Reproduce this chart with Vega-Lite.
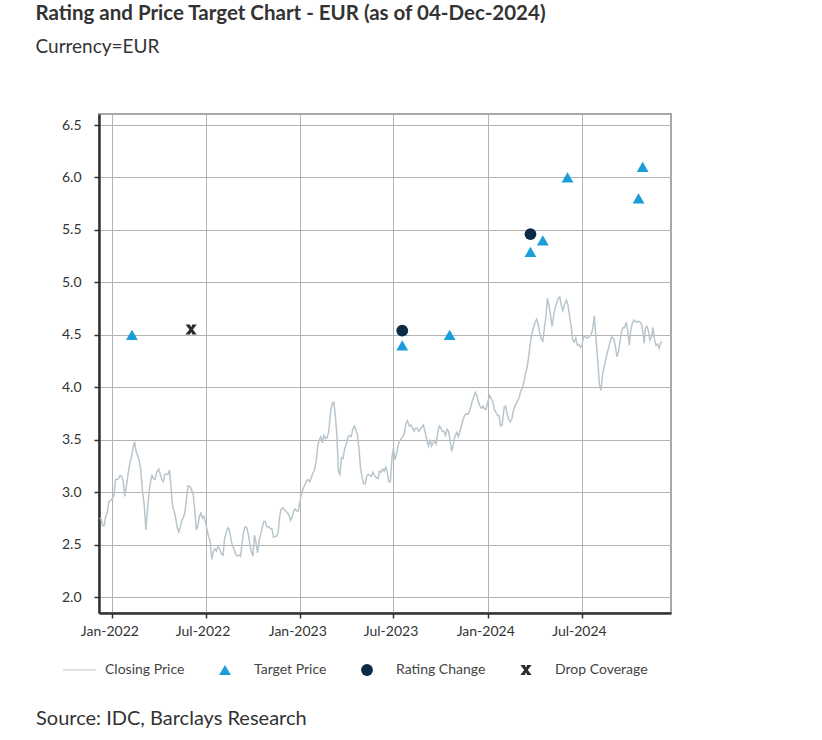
{
"$schema": "https://vega.github.io/schema/vega-lite/v6.json",
"width": 572,
"height": 499,
"padding": {"left": 35, "top": 4, "right": 10, "bottom": 5},
"background": "white",
"config": {
  "font": "Lato",
  "view": {"stroke": "#8a8a8a", "strokeWidth": 1.5}
},
"title": {
  "text": "Rating and Price Target Chart - EUR (as of 04-Dec-2024)",
  "subtitle": "Currency=EUR",
  "anchor": "start",
  "frame": "group",
  "dx": -63.5,
  "fontSize": 20.5,
  "fontWeight": "bold",
  "color": "#333333",
  "subtitleFontSize": 19,
  "subtitleColor": "#333333",
  "subtitlePadding": 13.5,
  "offset": 57
},
"datasets": {
  "price": [
    {"date":"2021-12-07","price":2.75},{"date":"2021-12-10","price":2.75},{"date":"2021-12-13","price":2.68},{"date":"2021-12-16","price":2.68},{"date":"2021-12-19","price":2.77},{"date":"2021-12-22","price":2.80},{"date":"2021-12-25","price":2.91},{"date":"2021-12-28","price":2.92},
    {"date":"2022-01-01","price":2.94},{"date":"2022-01-04","price":2.97},{"date":"2022-01-07","price":3.12},{"date":"2022-01-10","price":3.12},{"date":"2022-01-13","price":3.13},{"date":"2022-01-16","price":3.16},{"date":"2022-01-19","price":3.15},{"date":"2022-01-22","price":3.11},{"date":"2022-01-25","price":2.96},{"date":"2022-01-28","price":3.05},
    {"date":"2022-02-01","price":3.19},{"date":"2022-02-04","price":3.28},{"date":"2022-02-07","price":3.33},{"date":"2022-02-10","price":3.42},{"date":"2022-02-13","price":3.48},{"date":"2022-02-16","price":3.39},{"date":"2022-02-19","price":3.35},{"date":"2022-02-22","price":3.30},{"date":"2022-02-25","price":3.22},{"date":"2022-02-28","price":3.03},
    {"date":"2022-03-01","price":2.99},{"date":"2022-03-04","price":2.87},{"date":"2022-03-07","price":2.64},{"date":"2022-03-10","price":2.82},{"date":"2022-03-13","price":2.98},{"date":"2022-03-16","price":3.10},{"date":"2022-03-19","price":3.16},{"date":"2022-03-22","price":3.13},{"date":"2022-03-25","price":3.12},{"date":"2022-03-28","price":3.19},
    {"date":"2022-04-01","price":3.22},{"date":"2022-04-04","price":3.17},{"date":"2022-04-07","price":3.12},{"date":"2022-04-10","price":3.10},{"date":"2022-04-13","price":3.17},{"date":"2022-04-16","price":3.17},{"date":"2022-04-19","price":3.17},{"date":"2022-04-22","price":3.21},{"date":"2022-04-25","price":3.04},{"date":"2022-04-28","price":2.86},
    {"date":"2022-05-01","price":2.82},{"date":"2022-05-04","price":2.75},{"date":"2022-05-07","price":2.66},{"date":"2022-05-10","price":2.62},{"date":"2022-05-13","price":2.67},{"date":"2022-05-16","price":2.73},{"date":"2022-05-19","price":2.76},{"date":"2022-05-22","price":2.81},{"date":"2022-05-25","price":2.95},{"date":"2022-05-28","price":3.06},
    {"date":"2022-06-01","price":3.05},{"date":"2022-06-04","price":3.02},{"date":"2022-06-07","price":2.98},{"date":"2022-06-10","price":2.83},{"date":"2022-06-13","price":2.64},{"date":"2022-06-16","price":2.68},{"date":"2022-06-19","price":2.77},{"date":"2022-06-22","price":2.80},{"date":"2022-06-25","price":2.75},{"date":"2022-06-28","price":2.77},
    {"date":"2022-07-01","price":2.71},{"date":"2022-07-04","price":2.64},{"date":"2022-07-07","price":2.57},{"date":"2022-07-10","price":2.53},{"date":"2022-07-13","price":2.36},{"date":"2022-07-16","price":2.43},{"date":"2022-07-19","price":2.46},{"date":"2022-07-22","price":2.44},{"date":"2022-07-25","price":2.48},{"date":"2022-07-28","price":2.46},
    {"date":"2022-08-01","price":2.41},{"date":"2022-08-04","price":2.40},{"date":"2022-08-07","price":2.56},{"date":"2022-08-10","price":2.61},{"date":"2022-08-13","price":2.66},{"date":"2022-08-16","price":2.64},{"date":"2022-08-19","price":2.56},{"date":"2022-08-22","price":2.49},{"date":"2022-08-25","price":2.46},{"date":"2022-08-28","price":2.41},
    {"date":"2022-09-01","price":2.39},{"date":"2022-09-04","price":2.40},{"date":"2022-09-07","price":2.39},{"date":"2022-09-10","price":2.51},{"date":"2022-09-13","price":2.63},{"date":"2022-09-16","price":2.67},{"date":"2022-09-19","price":2.66},{"date":"2022-09-22","price":2.60},{"date":"2022-09-25","price":2.51},{"date":"2022-09-28","price":2.43},
    {"date":"2022-10-01","price":2.39},{"date":"2022-10-04","price":2.59},{"date":"2022-10-07","price":2.52},{"date":"2022-10-10","price":2.42},{"date":"2022-10-13","price":2.54},{"date":"2022-10-16","price":2.60},{"date":"2022-10-19","price":2.66},{"date":"2022-10-22","price":2.72},{"date":"2022-10-25","price":2.72},{"date":"2022-10-28","price":2.67},
    {"date":"2022-11-01","price":2.67},{"date":"2022-11-04","price":2.65},{"date":"2022-11-07","price":2.65},{"date":"2022-11-10","price":2.57},{"date":"2022-11-13","price":2.58},{"date":"2022-11-16","price":2.58},{"date":"2022-11-19","price":2.62},{"date":"2022-11-22","price":2.77},{"date":"2022-11-25","price":2.84},{"date":"2022-11-28","price":2.85},
    {"date":"2022-12-01","price":2.83},{"date":"2022-12-04","price":2.82},{"date":"2022-12-07","price":2.80},{"date":"2022-12-10","price":2.78},{"date":"2022-12-13","price":2.73},{"date":"2022-12-16","price":2.76},{"date":"2022-12-19","price":2.82},{"date":"2022-12-22","price":2.84},{"date":"2022-12-25","price":2.82},{"date":"2022-12-28","price":2.82},
    {"date":"2023-01-01","price":2.93},{"date":"2023-01-04","price":3.00},{"date":"2023-01-07","price":3.04},{"date":"2023-01-10","price":3.07},{"date":"2023-01-13","price":3.11},{"date":"2023-01-16","price":3.12},{"date":"2023-01-19","price":3.10},{"date":"2023-01-22","price":3.13},{"date":"2023-01-25","price":3.18},{"date":"2023-01-28","price":3.20},
    {"date":"2023-02-01","price":3.30},{"date":"2023-02-04","price":3.45},{"date":"2023-02-07","price":3.50},{"date":"2023-02-10","price":3.53},{"date":"2023-02-13","price":3.47},{"date":"2023-02-16","price":3.54},{"date":"2023-02-19","price":3.51},{"date":"2023-02-22","price":3.52},{"date":"2023-02-25","price":3.57},{"date":"2023-02-28","price":3.72},
    {"date":"2023-03-01","price":3.77},{"date":"2023-03-04","price":3.85},{"date":"2023-03-07","price":3.86},{"date":"2023-03-10","price":3.73},{"date":"2023-03-13","price":3.55},{"date":"2023-03-16","price":3.20},{"date":"2023-03-19","price":3.17},{"date":"2023-03-22","price":3.33},{"date":"2023-03-25","price":3.32},{"date":"2023-03-28","price":3.41},
    {"date":"2023-04-01","price":3.47},{"date":"2023-04-04","price":3.53},{"date":"2023-04-07","price":3.54},{"date":"2023-04-10","price":3.53},{"date":"2023-04-13","price":3.60},{"date":"2023-04-16","price":3.63},{"date":"2023-04-19","price":3.59},{"date":"2023-04-22","price":3.55},{"date":"2023-04-25","price":3.41},{"date":"2023-04-28","price":3.23},
    {"date":"2023-05-01","price":3.14},{"date":"2023-05-04","price":3.08},{"date":"2023-05-07","price":3.08},{"date":"2023-05-10","price":3.15},{"date":"2023-05-13","price":3.17},{"date":"2023-05-16","price":3.16},{"date":"2023-05-19","price":3.15},{"date":"2023-05-22","price":3.19},{"date":"2023-05-25","price":3.16},{"date":"2023-05-28","price":3.14},
    {"date":"2023-06-01","price":3.13},{"date":"2023-06-04","price":3.20},{"date":"2023-06-07","price":3.19},{"date":"2023-06-10","price":3.22},{"date":"2023-06-13","price":3.20},{"date":"2023-06-16","price":3.24},{"date":"2023-06-19","price":3.18},{"date":"2023-06-22","price":3.10},{"date":"2023-06-25","price":3.10},{"date":"2023-06-28","price":3.33},
    {"date":"2023-07-01","price":3.42},{"date":"2023-07-04","price":3.31},{"date":"2023-07-07","price":3.36},{"date":"2023-07-10","price":3.45},{"date":"2023-07-13","price":3.49},{"date":"2023-07-16","price":3.51},{"date":"2023-07-19","price":3.53},{"date":"2023-07-22","price":3.56},{"date":"2023-07-25","price":3.65},{"date":"2023-07-28","price":3.68},
    {"date":"2023-08-01","price":3.63},{"date":"2023-08-04","price":3.64},{"date":"2023-08-07","price":3.61},{"date":"2023-08-10","price":3.58},{"date":"2023-08-13","price":3.61},{"date":"2023-08-16","price":3.61},{"date":"2023-08-19","price":3.58},{"date":"2023-08-22","price":3.60},{"date":"2023-08-25","price":3.62},{"date":"2023-08-28","price":3.64},
    {"date":"2023-09-01","price":3.56},{"date":"2023-09-04","price":3.49},{"date":"2023-09-07","price":3.44},{"date":"2023-09-10","price":3.50},{"date":"2023-09-13","price":3.44},{"date":"2023-09-16","price":3.47},{"date":"2023-09-19","price":3.49},{"date":"2023-09-22","price":3.46},{"date":"2023-09-25","price":3.57},{"date":"2023-09-28","price":3.63},
    {"date":"2023-10-01","price":3.61},{"date":"2023-10-04","price":3.58},{"date":"2023-10-07","price":3.58},{"date":"2023-10-10","price":3.54},{"date":"2023-10-13","price":3.60},{"date":"2023-10-16","price":3.58},{"date":"2023-10-19","price":3.49},{"date":"2023-10-22","price":3.39},{"date":"2023-10-25","price":3.45},{"date":"2023-10-28","price":3.53},
    {"date":"2023-11-01","price":3.57},{"date":"2023-11-04","price":3.53},{"date":"2023-11-07","price":3.58},{"date":"2023-11-10","price":3.63},{"date":"2023-11-13","price":3.69},{"date":"2023-11-16","price":3.73},{"date":"2023-11-19","price":3.75},{"date":"2023-11-22","price":3.74},{"date":"2023-11-25","price":3.76},{"date":"2023-11-28","price":3.81},
    {"date":"2023-12-01","price":3.87},{"date":"2023-12-04","price":3.91},{"date":"2023-12-07","price":3.95},{"date":"2023-12-10","price":3.92},{"date":"2023-12-13","price":3.86},{"date":"2023-12-16","price":3.82},{"date":"2023-12-19","price":3.80},{"date":"2023-12-22","price":3.82},{"date":"2023-12-25","price":3.79},{"date":"2023-12-28","price":3.79},
    {"date":"2024-01-01","price":3.88},{"date":"2024-01-04","price":3.92},{"date":"2024-01-07","price":3.89},{"date":"2024-01-10","price":3.86},{"date":"2024-01-13","price":3.79},{"date":"2024-01-16","price":3.76},{"date":"2024-01-19","price":3.73},{"date":"2024-01-22","price":3.73},{"date":"2024-01-25","price":3.63},{"date":"2024-01-28","price":3.64},
    {"date":"2024-02-01","price":3.81},{"date":"2024-02-04","price":3.82},{"date":"2024-02-07","price":3.74},{"date":"2024-02-10","price":3.69},{"date":"2024-02-13","price":3.67},{"date":"2024-02-16","price":3.70},{"date":"2024-02-19","price":3.78},{"date":"2024-02-22","price":3.82},{"date":"2024-02-25","price":3.85},{"date":"2024-02-28","price":3.88},
    {"date":"2024-03-01","price":3.90},{"date":"2024-03-04","price":3.96},{"date":"2024-03-07","price":3.99},{"date":"2024-03-10","price":4.04},{"date":"2024-03-13","price":4.12},{"date":"2024-03-16","price":4.18},{"date":"2024-03-19","price":4.27},{"date":"2024-03-22","price":4.39},{"date":"2024-03-25","price":4.50},{"date":"2024-03-28","price":4.55},
    {"date":"2024-04-01","price":4.62},{"date":"2024-04-04","price":4.65},{"date":"2024-04-07","price":4.60},{"date":"2024-04-10","price":4.52},{"date":"2024-04-13","price":4.46},{"date":"2024-04-16","price":4.44},{"date":"2024-04-19","price":4.56},{"date":"2024-04-22","price":4.67},{"date":"2024-04-25","price":4.85},{"date":"2024-04-28","price":4.78},
    {"date":"2024-05-01","price":4.69},{"date":"2024-05-04","price":4.58},{"date":"2024-05-07","price":4.68},{"date":"2024-05-10","price":4.76},{"date":"2024-05-13","price":4.80},{"date":"2024-05-16","price":4.85},{"date":"2024-05-19","price":4.86},{"date":"2024-05-22","price":4.78},{"date":"2024-05-25","price":4.73},{"date":"2024-05-28","price":4.79},
    {"date":"2024-06-01","price":4.83},{"date":"2024-06-04","price":4.78},{"date":"2024-06-07","price":4.68},{"date":"2024-06-10","price":4.58},{"date":"2024-06-13","price":4.45},{"date":"2024-06-16","price":4.43},{"date":"2024-06-19","price":4.47},{"date":"2024-06-22","price":4.40},{"date":"2024-06-25","price":4.41},{"date":"2024-06-28","price":4.38},
    {"date":"2024-07-01","price":4.40},{"date":"2024-07-04","price":4.48},{"date":"2024-07-07","price":4.49},{"date":"2024-07-10","price":4.47},{"date":"2024-07-13","price":4.47},{"date":"2024-07-16","price":4.49},{"date":"2024-07-19","price":4.50},{"date":"2024-07-22","price":4.56},{"date":"2024-07-25","price":4.68},{"date":"2024-07-28","price":4.49},
    {"date":"2024-08-01","price":4.24},{"date":"2024-08-04","price":4.02},{"date":"2024-08-07","price":3.97},{"date":"2024-08-10","price":4.12},{"date":"2024-08-13","price":4.19},{"date":"2024-08-16","price":4.26},{"date":"2024-08-19","price":4.32},{"date":"2024-08-22","price":4.38},{"date":"2024-08-25","price":4.44},{"date":"2024-08-28","price":4.48},
    {"date":"2024-09-01","price":4.46},{"date":"2024-09-04","price":4.39},{"date":"2024-09-07","price":4.29},{"date":"2024-09-10","price":4.34},{"date":"2024-09-13","price":4.44},{"date":"2024-09-16","price":4.53},{"date":"2024-09-19","price":4.57},{"date":"2024-09-22","price":4.57},{"date":"2024-09-25","price":4.62},{"date":"2024-09-28","price":4.54},
    {"date":"2024-10-01","price":4.40},{"date":"2024-10-04","price":4.55},{"date":"2024-10-07","price":4.61},{"date":"2024-10-10","price":4.64},{"date":"2024-10-13","price":4.63},{"date":"2024-10-16","price":4.62},{"date":"2024-10-19","price":4.63},{"date":"2024-10-22","price":4.62},{"date":"2024-10-25","price":4.60},{"date":"2024-10-28","price":4.50},{"date":"2024-10-30","price":4.42},
    {"date":"2024-11-01","price":4.56},{"date":"2024-11-04","price":4.58},{"date":"2024-11-07","price":4.54},{"date":"2024-11-10","price":4.45},{"date":"2024-11-13","price":4.48},{"date":"2024-11-16","price":4.57},{"date":"2024-11-19","price":4.45},{"date":"2024-11-22","price":4.40},{"date":"2024-11-25","price":4.41},{"date":"2024-11-28","price":4.37},
    {"date":"2024-12-01","price":4.43},{"date":"2024-12-04","price":4.43}
  ],
  "events": [
    {"date":"2022-02-08","value":4.50,"type":"Target Price"},
    {"date":"2023-07-18","value":4.40,"type":"Target Price"},
    {"date":"2023-10-18","value":4.50,"type":"Target Price"},
    {"date":"2024-03-23","value":5.29,"type":"Target Price"},
    {"date":"2024-04-16","value":5.40,"type":"Target Price"},
    {"date":"2024-06-03","value":6.00,"type":"Target Price"},
    {"date":"2024-10-19","value":5.80,"type":"Target Price"},
    {"date":"2024-10-27","value":6.10,"type":"Target Price"},
    {"date":"2023-07-18","value":4.54,"type":"Rating Change"},
    {"date":"2024-03-23","value":5.46,"type":"Rating Change"},
    {"date":"2022-06-03","value":4.55,"type":"Drop Coverage"}
  ]
},
"layer": [
  {
    "data": {"name": "price"},
    "mark": {"type": "line", "strokeWidth": 1.5, "interpolate": "linear"},
    "encoding": {
      "x": {
        "field": "date", "type": "temporal",
        "scale": {"domain": [{"year": 2021, "month": 12, "date": 6}, {"year": 2024, "month": 12, "date": 21}], "nice": false},
        "axis": {
          "title": "Source: IDC, Barclays Research",
          "titleAnchor": "start", "titleAlign": "left", "titleX": -63.5, "titleY": 105,
          "titleBaseline": "middle", "titleFontSize": 20, "titleFontWeight": "normal", "titleColor": "#333333",
          "format": "%b-%Y", "tickCount": {"interval": "month", "step": 6},
          "labelFontSize": 14, "labelColor": "#333333", "labelPadding": 6, "labelFlush": false, "labelOffset": -3,
          "tickSize": 5, "tickColor": "#333333", "tickWidth": 1.5,
          "domainColor": "#333333", "domainWidth": 2.5,
          "gridColor": "#b3b3b3", "gridWidth": 1
        }
      },
      "y": {
        "field": "price", "type": "quantitative",
        "scale": {"domain": [1.848, 6.605], "nice": false, "zero": false},
        "axis": {
          "title": null,
          "values": [2, 2.5, 3, 3.5, 4, 4.5, 5, 5.5, 6, 6.5],
          "format": ".1f",
          "labelFontSize": 14, "labelColor": "#333333", "labelPadding": 13,
          "tickSize": 5, "tickColor": "#333333", "tickWidth": 1.5,
          "domainColor": "#333333", "domainWidth": 2.5,
          "gridColor": "#b3b3b3", "gridWidth": 1
        }
      },
      "color": {
        "datum": "Closing Price", "type": "nominal",
        "scale": {
          "domain": ["Closing Price", "Target Price", "Rating Change", "Drop Coverage"],
          "range": ["#b9c5cc", "#1b9ed8", "#0b2a45", "#2b2b2b"]
        },
        "legend": {
          "orient": "none", "legendX": -30, "legendY": 549, "direction": "horizontal", "columns": 4,
          "title": null, "labelFontSize": 14, "labelColor": "#444444", "symbolSize": 140,
          "labelOffset": 22, "columnPadding": 33,
          "encode": {"symbols": {"update": {
            "fill": {"scale": "color", "field": "value"},
            "shape": {"scale": "shape", "field": "value"},
            "stroke": {"value": "transparent"}, "strokeWidth": {"value": 0},
            "opacity": {"value": 1}, "size": {"value": 140}
          }}}
        }
      }
    }
  },
  {
    "data": {"name": "events"},
    "mark": {"type": "point", "filled": true, "opacity": 1, "size": 140, "strokeWidth": 0},
    "encoding": {
      "x": {"field": "date", "type": "temporal"},
      "y": {"field": "value", "type": "quantitative"},
      "color": {"field": "type", "type": "nominal"},
      "shape": {
        "field": "type", "type": "nominal",
        "scale": {
          "domain": ["Closing Price", "Target Price", "Rating Change", "Drop Coverage"],
          "range": ["M-2.2,-0.1H3.4V0.1H-2.2Z", "triangle-up", "circle", "M-0.95,-0.85H-0.2L0,-0.4L0.2,-0.85H0.95L0.3,0L0.95,0.85H0.2L0,0.4L-0.2,0.85H-0.95L-0.3,0Z"]
        },
        "legend": {
          "orient": "none", "legendX": -30, "legendY": 549, "direction": "horizontal", "columns": 4,
          "title": null, "labelFontSize": 14, "labelColor": "#444444", "symbolSize": 140,
          "labelOffset": 22, "columnPadding": 33
        }
      }
    }
  }
]
}
